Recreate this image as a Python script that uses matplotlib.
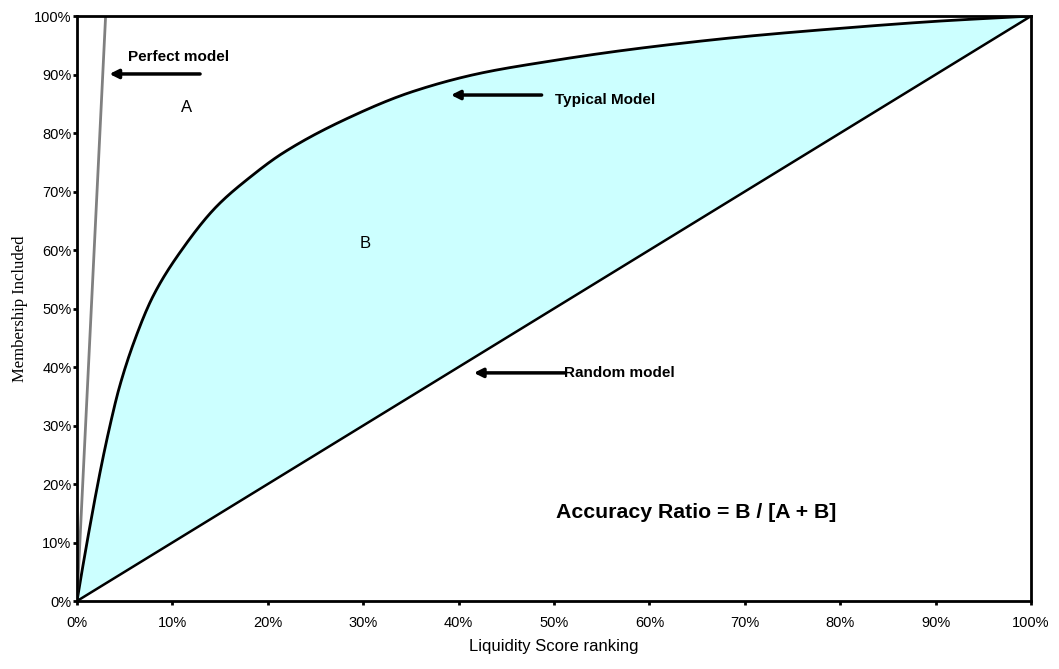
import numpy as np
import matplotlib.pyplot as plt

# Courbe CAP (en %)
rank = [0, 1.3, 2.6, 3.5, 4.4, 6.0, 8.0, 11.1, 14.6, 18.1, 21.6, 28.2, 35.2,
        42.2, 49.2, 56.2, 63.1, 70.0, 80.0, 90.0, 100]
typical = [0, 12.3, 23.5, 30.3, 36.3, 44.4, 52.2, 60.3, 67.4, 72.4, 76.6, 82.4, 87.1,
           90.2, 92.2, 93.9, 95.3, 96.5, 97.9, 99.1, 100]
random_x = [0, 100]
random_y = [0, 100]
perfect_x = [0, 3]
perfect_y = [0, 100]
ticks = list(range(0, 101, 10))
tick_labels = [f"{t}%" for t in ticks]


# Tracé lisse (monotone, Fritsch-Carlson) entre les points lus
def pchip(x, y, xn):
    x = np.asarray(x, float)
    y = np.asarray(y, float)
    h = np.diff(x)
    d = np.diff(y) / h
    m = np.zeros_like(y)
    for k in range(1, len(x) - 1):
        if d[k - 1] * d[k] > 0:
            w1 = 2 * h[k] + h[k - 1]
            w2 = h[k] + 2 * h[k - 1]
            m[k] = (w1 + w2) / (w1 / d[k - 1] + w2 / d[k])
    m[0] = d[0] * 1.05
    m[-1] = d[-1]
    idx = np.clip(np.searchsorted(x, xn) - 1, 0, len(h) - 1)
    t = (xn - x[idx]) / h[idx]
    h00 = 2 * t**3 - 3 * t**2 + 1
    h10 = t**3 - 2 * t**2 + t
    h01 = -2 * t**3 + 3 * t**2
    h11 = t**3 - t**2
    return h00 * y[idx] + h10 * h[idx] * m[idx] + h01 * y[idx + 1] + h11 * h[idx] * m[idx + 1]


plt.rcParams['font.family'] = ['Liberation Sans', 'DejaVu Sans']

fig = plt.figure(figsize=(10.59, 6.69), dpi=100)
ax = fig.add_axes([0.0727, 0.1016, 0.9009, 0.8744])

xs = np.linspace(0, 100, 1000)
ys = pchip(rank, typical, xs)

ax.fill_between(xs, ys, xs, color='#CCFFFF', lw=0)
ax.plot(xs, ys, color='black', lw=2)
ax.plot(random_x, random_y, color='black', lw=1.8)
ax.plot(perfect_x, perfect_y, color='#808080', lw=2)

ax.set_xlim(0, 100)
ax.set_ylim(0, 100)
ax.set_xticks(ticks)
ax.set_yticks(ticks)
ax.set_xticklabels(tick_labels, fontsize=10.5)
ax.set_yticklabels(tick_labels, fontsize=10.5)
ax.tick_params(direction='out', length=3, width=2)
ax.tick_params(axis='x', pad=8)
ax.tick_params(axis='y', pad=1)
for s in ax.spines.values():
    s.set_linewidth(2)

ax.set_xlabel("Liquidity Score ranking", fontsize=12, labelpad=6)
ax.set_ylabel("Membership Included", fontsize=12, family=['Liberation Serif'], labelpad=4)

arrow = dict(arrowstyle='-|>', lw=2.5, color='black', mutation_scale=13,
             shrinkA=0, shrinkB=0)

ax.text(5.3, 93, "Perfect model", fontsize=11, fontweight='bold', va='center')
ax.annotate("", xy=(3.4, 90.1), xytext=(12.9, 90.1), arrowprops=arrow)
ax.text(11.5, 84.4, "A", fontsize=12, ha='center', va='center')

ax.text(50.1, 85.6, "Typical Model", fontsize=11, fontweight='bold', va='center')
ax.annotate("", xy=(39.2, 86.5), xytext=(48.7, 86.5), arrowprops=arrow)
ax.text(30.2, 61.2, "B", fontsize=12, ha='center', va='center')

ax.text(51, 39, "Random model", fontsize=11, fontweight='bold', va='center')
ax.annotate("", xy=(41.6, 39), xytext=(51.2, 39), arrowprops=arrow)

ax.text(50.2, 15.2, "Accuracy Ratio = B / [A + B]", fontsize=15.3, fontweight='bold', va='center')

fig.savefig("out.png", dpi=100)
